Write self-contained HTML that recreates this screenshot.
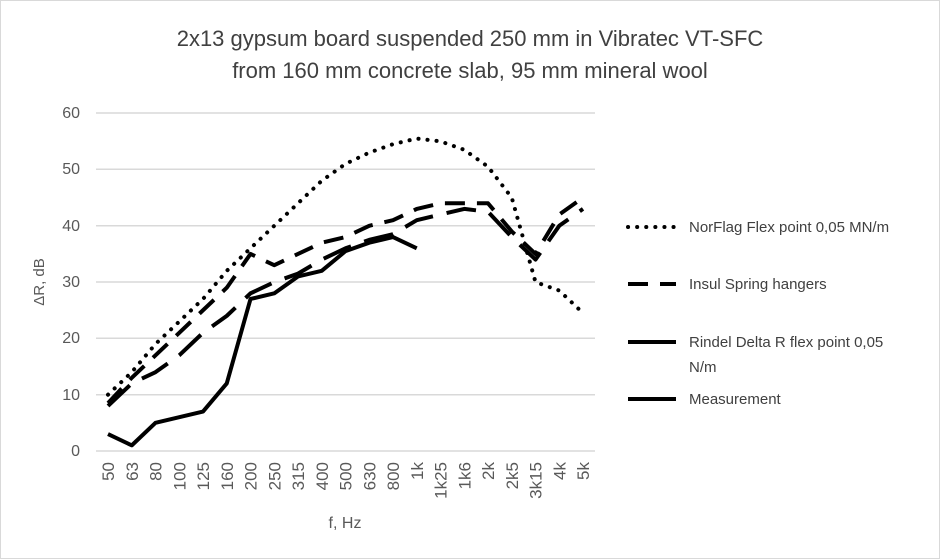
<!DOCTYPE html>
<html><head><meta charset="utf-8"><style>html,body{margin:0;padding:0;background:#fff}svg{display:block}</style></head>
<body>
<svg width="940" height="559" viewBox="0 0 940 559" xmlns="http://www.w3.org/2000/svg" font-family="Liberation Sans, sans-serif">
<rect x="0.5" y="0.5" width="939" height="558" fill="#fff" stroke="#d9d9d9"/>
<text x="470" y="46" text-anchor="middle" font-size="22" fill="#404040">2x13 gypsum board suspended 250 mm in Vibratec VT-SFC</text>
<text x="470" y="78" text-anchor="middle" font-size="22" fill="#404040">from 160 mm concrete slab, 95 mm mineral wool</text>
<g stroke="#d9d9d9" stroke-width="1.5">
<line x1="96" x2="595" y1="113" y2="113"/><line x1="96" x2="595" y1="169.3" y2="169.3"/><line x1="96" x2="595" y1="225.7" y2="225.7"/><line x1="96" x2="595" y1="282" y2="282"/><line x1="96" x2="595" y1="338.3" y2="338.3"/><line x1="96" x2="595" y1="394.7" y2="394.7"/><line x1="96" x2="595" y1="451" y2="451"/>
</g>
<g font-size="16" fill="#595959" text-anchor="end">
<text x="80" y="118">60</text><text x="80" y="174">50</text><text x="80" y="231">40</text><text x="80" y="287">30</text><text x="80" y="343">20</text><text x="80" y="400">10</text><text x="80" y="456">0</text>
</g>
<text transform="translate(44,282) rotate(-90)" text-anchor="middle" font-size="15" fill="#595959">ΔR, dB</text>
<text x="345" y="528" text-anchor="middle" font-size="16" fill="#595959">f, Hz</text>
<g font-size="17" fill="#595959" text-anchor="end">
<text transform="translate(114,462) rotate(-90)">50</text>
<text transform="translate(137.75,462) rotate(-90)">63</text>
<text transform="translate(161.5,462) rotate(-90)">80</text>
<text transform="translate(185.25,462) rotate(-90)">100</text>
<text transform="translate(209,462) rotate(-90)">125</text>
<text transform="translate(232.75,462) rotate(-90)">160</text>
<text transform="translate(256.5,462) rotate(-90)">200</text>
<text transform="translate(280.25,462) rotate(-90)">250</text>
<text transform="translate(304,462) rotate(-90)">315</text>
<text transform="translate(327.75,462) rotate(-90)">400</text>
<text transform="translate(351.5,462) rotate(-90)">500</text>
<text transform="translate(375.25,462) rotate(-90)">630</text>
<text transform="translate(399,462) rotate(-90)">800</text>
<text transform="translate(422.75,462) rotate(-90)">1k</text>
<text transform="translate(446.5,462) rotate(-90)">1k25</text>
<text transform="translate(470.25,462) rotate(-90)">1k6</text>
<text transform="translate(494,462) rotate(-90)">2k</text>
<text transform="translate(517.75,462) rotate(-90)">2k5</text>
<text transform="translate(541.5,462) rotate(-90)">3k15</text>
<text transform="translate(565.25,462) rotate(-90)">4k</text>
<text transform="translate(589,462) rotate(-90)">5k</text>
</g>
<g fill="none" stroke="#000" stroke-width="4" stroke-linejoin="round">
<polyline id="nor" stroke-dasharray="0.1 9" stroke-linecap="round"/>
<polyline id="ins" stroke-dasharray="20 12"/>
<polyline id="rin" stroke-dasharray="30 14"/>
<polyline id="mea"/>
</g>
<g font-size="15" fill="#404040">
<line x1="628" x2="676" y1="227" y2="227" stroke="#000" stroke-width="4" stroke-dasharray="0.1 9" stroke-linecap="round"/>
<text x="689" y="232">NorFlag Flex point 0,05 MN/m</text>
<line x1="628" x2="676" y1="284" y2="284" stroke="#000" stroke-width="4" stroke-dasharray="20 12"/>
<text x="689" y="289">Insul Spring hangers</text>
<line x1="628" x2="676" y1="342" y2="342" stroke="#000" stroke-width="4"/>
<text x="689" y="347">Rindel Delta R flex point 0,05</text>
<text x="689" y="372">N/m</text>
<line x1="628" x2="676" y1="399" y2="399" stroke="#000" stroke-width="4"/>
<text x="689" y="404">Measurement</text>
</g>
<script>
function X(i){return 108+i*23.75}function Y(v){return 451-v*5.63}
function set(id,d){document.getElementById(id).setAttribute('points',d.map(function(v,i){return X(i)+','+Y(v)}).join(' '));}
set('nor',[10,14,19,23,27,32,36,40,44,48,51,53,54.5,55.5,55,53.5,50.5,45,30,28.5,24.5]);
set('ins',[8.5,13,17,21,25,29,35,33,35,37,38,40,41,43,44,44,44,39,35,42,45]);
set('rin',[8,12,14,17,21,24,28,30,31.5,34,36,37.5,38.5,41,42,43,42.5,38,34,40,43]);
set('mea',[3,1,5,6,7,12,27,28,31,32,35.5,37,38,36]);
</script>
</svg>
</body></html>
